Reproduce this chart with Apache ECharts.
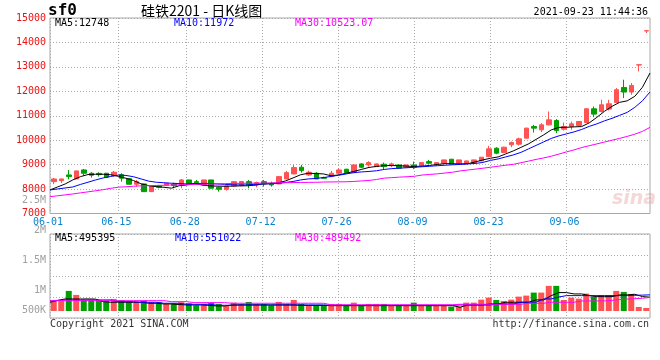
<!DOCTYPE html>
<html><head><meta charset="utf-8">
<script src="https://cdn.jsdelivr.net/npm/echarts@6/dist/echarts.min.js"></script>
<style>html,body{margin:0;padding:0;background:#fff}#c{width:660px;height:360px}</style>
</head><body><div id="c"></div><script>
const dates = ['06-01','06-02','06-03','06-04','06-07','06-08','06-09','06-10','06-11','06-15','06-16','06-17','06-18','06-21','06-22','06-23','06-24','06-25','06-28','06-29','06-30',
'07-01','07-02','07-05','07-06','07-07','07-08','07-09','07-12','07-13','07-14','07-15','07-16','07-19','07-20','07-21','07-22','07-23','07-26','07-27','07-28','07-29','07-30',
'08-02','08-03','08-04','08-05','08-06','08-09','08-10','08-11','08-12','08-13','08-16','08-17','08-18','08-19','08-20','08-23','08-24','08-25','08-26','08-27','08-30','08-31',
'09-01','09-02','09-03','09-06','09-07','09-08','09-09','09-10','09-13','09-14','09-15','09-16','09-17','09-22','09-23'];
const tickDates = ['06-01','06-15','06-28','07-12','07-26','08-09','08-23','09-06'];

const opens = [8304,8345,8578,8414,8783,8648,8640,8648,8550,8591,
 8427,8197,8210,7894,8128,8156,8210,8168,8373,8304,
 8168,8373,8074,7992,8128,8140,8304,8168,8304,8238,
 8210,8414,8620,8894,8578,8648,8470,8509,8648,8812,
 8673,9029,8988,8919,9017,8960,8988,8894,8988,8960,
 9124,8988,9058,9222,9058,9058,9058,9152,9329,9673,
 9493,9809,9837,10083,10559,10424,10628,10805,10452,10559,
 10600,10723,11285,11174,11272,11543,12158,11969,13076,14470];
const closes = [8414,8414,8509,8742,8648,8566,8590,8484,8689,8443,
 8197,8304,7894,8128,8074,8238,8140,8373,8197,8263,
 8373,8033,7992,8128,8304,8310,8168,8263,8210,8168,
 8509,8673,8878,8755,8689,8414,8440,8648,8783,8673,
 8988,8894,9083,9029,8919,9029,8853,8988,8894,9083,
 9058,9083,9193,9029,9193,9152,9193,9304,9645,9468,
 9714,9903,10054,10493,10493,10628,10833,10395,10559,10670,
 10764,11285,11067,11449,11490,12064,11969,12240,13086,14480];
const lows = [8200,8250,8400,8410,8550,8470,8510,8470,8509,8304,
 8190,8100,7890,7890,8033,8130,8033,8033,8190,8197,
 8160,8030,7894,7935,8120,8130,8033,8074,8100,8100,
 8200,8410,8610,8673,8537,8410,8414,8500,8607,8660,
 8660,8853,8919,8910,8812,8894,8840,8880,8812,8950,
 9017,8980,9050,9020,9050,9050,9050,9140,9304,9427,
 9480,9714,9780,10070,10313,10329,10600,10288,10395,10424,
 10590,10700,10944,11133,11215,11540,11723,11859,12811,14385];
const highs = [8450,8420,8780,8750,8824,8690,8690,8660,8742,8648,
 8440,8373,8220,8130,8168,8250,8263,8414,8380,8373,
 8380,8380,8099,8130,8310,8320,8373,8304,8373,8304,
 8540,8742,8988,8988,8755,8689,8509,8742,8853,8830,
 9010,9058,9140,9040,9083,9083,9000,9000,9124,9090,
 9193,9090,9200,9230,9200,9160,9200,9310,9768,9714,
 9730,9944,10108,10510,10628,10698,11174,10862,10723,10764,
 10780,11300,11379,11654,11654,12133,12474,12338,13086,14480];

const ma5 = [7963,8086,8209,8373,8508,8594,8606,8606,8586,8520,
 8442,8348,8213,8139,8098,8074,8037,8135,8168,8229,
 8168,8130,8120,8115,8120,8130,8135,8160,8209,8225,
 8250,8332,8455,8586,8647,8635,8619,8545,8578,8647,
 8721,8803,8885,8926,8959,8962,8957,8938,8922,8938,
 8967,9008,9041,9037,9029,9037,9110,9192,9262,9315,
 9438,9561,9705,9848,10033,10217,10422,10524,10528,10545,
 10557,10709,10934,11180,11385,11549,11610,11795,12163,12748];
const ma10 = [7963,8004,8045,8086,8188,8279,8373,8455,8516,8570,
 8557,8504,8414,8324,8279,8258,8238,8225,8209,8217,
 8233,8229,8209,8193,8176,8168,8170,8197,8209,8217,
 8229,8270,8311,8373,8414,8434,8471,8516,8565,8619,
 8672,8701,8721,8750,8803,8836,8856,8873,8893,8914,
 8934,8955,8975,8992,9008,9029,9049,9090,9172,9233,
 9315,9397,9500,9643,9787,9930,10073,10176,10258,10340,
 10438,10565,10668,10791,10894,11016,11139,11344,11610,11972];
const ma30 = [7688,7725,7762,7799,7844,7885,7930,7975,8029,8078,
 8094,8115,8131,8139,8148,8156,8168,8172,8180,8188,
 8197,8205,8213,8221,8229,8233,8238,8242,8246,8250,
 8258,8262,8266,8270,8274,8278,8287,8291,8295,8299,
 8311,8332,8352,8393,8447,8467,8488,8504,8524,8574,
 8598,8623,8656,8688,8742,8779,8815,8852,8893,8934,
 8975,9012,9078,9143,9213,9274,9344,9430,9520,9602,
 9697,9774,9848,9922,10000,10073,10155,10246,10360,10523.07];

const volumes = [406000,406000,645000,550000,430000,430000,430000,406000,454000,422000,
 375000,375000,406000,375000,375000,335000,351000,375000,351000,303000,
 335000,366000,335000,287000,366000,335000,382000,335000,335000,303000,
 382000,335000,430000,335000,303000,303000,303000,335000,335000,303000,
 366000,303000,335000,335000,335000,303000,303000,303000,366000,303000,
 303000,303000,303000,270000,270000,366000,366000,437000,485000,430000,
 406000,437000,509000,533000,605000,605000,765000,765000,430000,485000,
 461000,581000,509000,533000,533000,645000,621000,573000,263000,239000];
const volMa5 = [375000,418000,454000,454000,452000,454000,450000,389000,375000,377000,
 375000,373000,375000,351000,351000,335000,335000,320000,311000,311000,
 311000,300000,287000,287000,311000,311000,311000,311000,311000,311000,
 311000,311000,311000,300000,300000,300000,300000,294000,294000,294000,
 294000,294000,294000,294000,294000,294000,294000,294000,294000,294000,
 294000,294000,294000,294000,256000,311000,311000,311000,335000,335000,
 375000,375000,375000,375000,430000,430000,533000,605000,605000,573000,
 573000,533000,509000,509000,509000,550000,550000,565000,510000,495395];
const volMa10 = [406000,420000,430000,430000,430000,430000,430000,430000,430000,389000,
 389000,389000,375000,375000,375000,351000,351000,351000,327000,327000,
 327000,327000,303000,303000,303000,311000,311000,311000,311000,311000,
 311000,311000,311000,311000,311000,311000,311000,303000,303000,303000,
 303000,303000,303000,303000,303000,303000,303000,303000,303000,303000,
 303000,303000,303000,303000,311000,311000,311000,311000,311000,335000,
 335000,335000,375000,375000,375000,454000,454000,500000,533000,533000,
 533000,533000,533000,533000,533000,533000,533000,540000,545000,551022];
const volMa30 = [413000,413000,413000,413000,413000,413000,413000,413000,413000,413000,
 413000,413000,413000,413000,413000,413000,389000,389000,389000,366000,
 366000,366000,366000,366000,351000,351000,351000,351000,351000,351000,
 351000,351000,351000,351000,351000,351000,351000,315000,315000,315000,
 315000,315000,315000,315000,315000,315000,315000,315000,315000,315000,
 315000,315000,315000,315000,327000,327000,327000,327000,327000,327000,
 327000,327000,327000,351000,351000,351000,375000,375000,375000,375000,
 406000,406000,406000,406000,420000,440000,450000,460000,470000,489492];

const priceMin = 7000, priceMax = 15000, priceStep = 1000;
const volTickLabels = ['2.5M','2M','1.5M','1M','500K'];

const FONT = '"DejaVu Sans Mono", monospace';
const UP = '#ff5252', DOWN = '#00a000';
const GRIDC = '#aaaaaa';
const isTick = (i) => tickDates.indexOf(dates[i]) >= 0;
const last = (a) => a[a.length - 1];

const candles = dates.map((d, i) => [opens[i], closes[i], lows[i], highs[i]]);
const volBars = volumes.map((v, i) => ({ value: v, itemStyle: { color: closes[i] >= opens[i] ? UP : DOWN } }));

function txt(text, x, y, fill, extra) {
  return { type: 'text', x: x, y: y, silent: true, z: 100,
    style: Object.assign({ text: text, fill: fill, font: '10px ' + FONT,
      textAlign: 'left', align: 'left', textVerticalAlign: 'middle', verticalAlign: 'middle' }, extra || {}) };
}
const volLabelY = [200, 230.7, 260, 290.7, 310.7];

const dotted = { color: GRIDC, type: [1, 2], width: 1 };
const lineS = (name, data, color, xi, yi) => ({ type: 'line', name: name, data: data, xAxisIndex: xi, yAxisIndex: yi,
  symbol: 'none', smooth: false, lineStyle: { color: color, width: 1 }, z: 5, silent: true });

const chart = echarts.init(document.getElementById('c'));
chart.setOption({
  animation: false,
  backgroundColor: '#ffffff',
  grid: [
    { left: 50, right: 10, top: 18, height: 195.5, show: true, borderColor: '#a8a8a8', borderWidth: 1 },
    { left: 50, right: 10, top: 234, height: 84, show: true, borderColor: '#a8a8a8', borderWidth: 1 },
    { left: 50, right: 10, top: 234, height: 77, show: false }
  ],
  xAxis: [
    { type: 'category', gridIndex: 0, data: dates, boundaryGap: true, show: false, position: 'bottom' },
    { type: 'category', gridIndex: 0, data: dates, boundaryGap: false, position: 'bottom',
      axisLine: { show: false }, axisTick: { show: false },
      axisLabel: { interval: (i) => isTick(i), color: '#0a82cc', fontFamily: FONT, fontSize: 10, margin: 4, padding: [0, 4, 0, 0] },
      splitLine: { show: true, interval: (i) => isTick(i), lineStyle: dotted } },
    { type: 'category', gridIndex: 1, data: dates, boundaryGap: false, position: 'bottom',
      axisLine: { show: false }, axisTick: { show: false }, axisLabel: { show: false },
      splitLine: { show: true, interval: (i) => isTick(i), lineStyle: dotted } },
    { type: 'category', gridIndex: 2, data: dates, boundaryGap: true, show: false, position: 'bottom' },
    { type: 'category', gridIndex: 2, data: dates, boundaryGap: false, show: false, position: 'top' }
  ],
  yAxis: [
    { type: 'value', gridIndex: 0, min: priceMin, max: priceMax, interval: priceStep,
      axisLine: { show: false }, axisTick: { show: false },
      axisLabel: { color: '#ee1111', fontFamily: FONT, fontSize: 10, margin: 4, padding: [0, 0, 5, 0], formatter: (v) => String(v) },
      splitLine: { show: true, lineStyle: dotted } },
    { type: 'value', gridIndex: 1, min: 0, max: 2000000, interval: 500000,
      axisLine: { show: false }, axisTick: { show: false }, axisLabel: { show: false },
      splitLine: { show: true, lineStyle: dotted } },
    { type: 'value', gridIndex: 2, min: 166667, max: 2000000, show: false, splitLine: { show: false } }
  ],
  series: [
    { type: 'candlestick', name: 'K', data: candles, xAxisIndex: 0, yAxisIndex: 0, barWidth: 5, silent: true,
      itemStyle: { color: UP, color0: DOWN, borderColor: UP, borderColor0: DOWN, borderWidth: 1 } },
    lineS('MA5', ma5, '#000000', 1, 0),
    lineS('MA10', ma10, '#0000ff', 1, 0),
    lineS('MA30', ma30, '#ff00ff', 1, 0),
    { type: 'bar', name: 'VOL', data: volBars, xAxisIndex: 3, yAxisIndex: 2, barWidth: 6, clip: true, silent: true },
    lineS('VMA5', volMa5, '#000000', 4, 2),
    lineS('VMA10', volMa10, '#0000ff', 4, 2),
    lineS('VMA30', volMa30, '#ff00ff', 4, 2)
  ],
  graphic: [
    txt('sina', 612, 199, 'rgba(225,140,140,0.35)', { font: 'italic bold 19px "DejaVu Sans", sans-serif' }),
    txt('sf0', 48, 11, '#000', { font: 'bold 16px ' + FONT }),
    txt('硅铁2201 - 日K线图', 141, 11, '#000', { font: '14px "Noto Sans CJK SC", sans-serif' }),
    txt('2021-09-23 11:44:36', 648, 12, '#000', { textAlign: 'right', align: 'right' }),
    txt('MA5:' + last(ma5), 55, 23, '#000'),
    txt('MA10:' + last(ma10), 174, 23, '#0000ff'),
    txt('MA30:' + last(ma30), 295, 23, '#ff00ff'),
    txt('MA5:' + last(volMa5), 55, 238.5, '#000'),
    txt('MA10:' + last(volMa10), 175, 238.5, '#0000ff'),
    txt('MA30:' + last(volMa30), 295, 238.5, '#ff00ff'),
    txt('Copyright 2021 SINA.COM', 50, 324, '#333'),
    txt('http://finance.sina.com.cn', 649, 324, '#333', { textAlign: 'right', align: 'right' })
  ].concat(volTickLabels.map((t, k) => txt(t, 46, volLabelY[k], '#a0a0a0', { textAlign: 'right', align: 'right' })))
});
</script></body></html>
